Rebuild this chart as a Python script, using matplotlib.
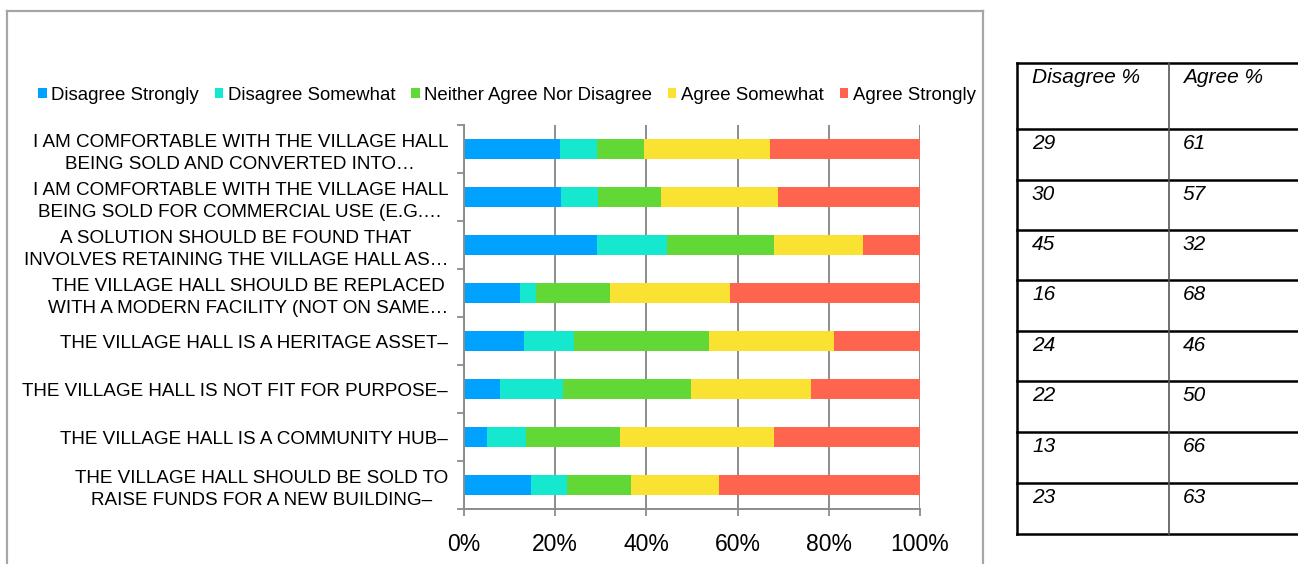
"""
Stacked 100% bar chart of village hall survey answers with a side table
of disagree / agree percentages.
"""

import matplotlib
matplotlib.use("Agg")
import matplotlib.pyplot as plt
import numpy as np
from matplotlib.lines import Line2D


# ---------- data ----------
statements = [
    "I AM COMFORTABLE WITH THE VILLAGE HALL\nBEING SOLD AND CONVERTED INTO…",
    "I AM COMFORTABLE WITH THE VILLAGE HALL\nBEING SOLD FOR COMMERCIAL USE (E.G.…",
    "A SOLUTION SHOULD BE FOUND THAT\nINVOLVES RETAINING THE VILLAGE HALL AS…",
    "THE VILLAGE HALL SHOULD BE REPLACED\nWITH A MODERN FACILITY (NOT ON SAME…",
    "THE VILLAGE HALL IS A HERITAGE ASSET–",
    "THE VILLAGE HALL IS NOT FIT FOR PURPOSE–",
    "THE VILLAGE HALL IS A COMMUNITY HUB–",
    "THE VILLAGE HALL SHOULD BE SOLD TO\nRAISE FUNDS FOR A NEW BUILDING–",
]

series_names = ["Disagree Strongly", "Disagree Somewhat",
                "Neither Agree Nor Disagree", "Agree Somewhat", "Agree Strongly"]

disagree_strongly = [21.0, 21.2, 29.2, 12.2, 13.1, 7.9, 5.0, 14.8]
disagree_somewhat = [8.2, 8.2, 15.4, 3.6, 11.0, 13.8, 8.5, 7.7]
neither = [10.2, 13.8, 23.4, 16.2, 29.6, 28.0, 20.7, 14.2]
agree_somewhat = [27.6, 25.6, 19.4, 26.4, 27.4, 26.3, 33.8, 19.3]
agree_strongly = [33.0, 31.2, 12.6, 41.6, 18.9, 24.0, 32.0, 44.0]

x_ticks = [0, 20, 40, 60, 80, 100]
x_tick_labels = ["0%", "20%", "40%", "60%", "80%", "100%"]

table_header = ["Disagree %", "Agree %"]
disagree_pct = [29, 30, 45, 16, 24, 22, 13, 23]
agree_pct = [61, 57, 32, 68, 46, 50, 66, 63]

colors = ["#00A2FF", "#16E7CF", "#61D836", "#FAE232", "#FF644E"]

plt.rcParams["font.family"] = ["Liberation Sans", "DejaVu Sans"]

W, H = 1298, 564


def fx(x):
    return x / W


def fy(y):
    return 1 - y / H


# ---------- chart ----------
fig = plt.figure(figsize=(W / 100, H / 100), dpi=100)
ax = fig.add_axes([fx(464), fy(509), fx(920) - fx(464), fy(125) - fy(509)])

values = [disagree_strongly, disagree_somewhat, neither, agree_somewhat, agree_strongly]
y = np.arange(len(statements))
left = np.zeros(len(statements))
for name, vals, col in zip(series_names, values, colors):
    ax.barh(y, vals, left=left, height=0.4, color=col, label=name,
            linewidth=0, zorder=2)
    left += np.array(vals)

ax.set_xlim(0, 100)
ax.set_ylim(len(statements) - 0.5, -0.5)

ax.set_xticks(x_ticks)
ax.set_xticklabels(x_tick_labels, fontsize=16.5)
ax.tick_params(axis="x", length=5, width=1.3, color="#8c8c8c", pad=12)
ax.grid(axis="x", color="#8c8c8c", linewidth=1.4, zorder=0)

ax.set_yticks(y)
ax.set_yticklabels(statements, fontsize=13.6, multialignment="center")
for lbl in ax.get_yticklabels():
    lbl.set_linespacing(1.4)
ax.tick_params(axis="y", which="major", length=0, pad=11.5)
ax.set_yticks(np.arange(-0.5, len(statements)), minor=True)
ax.tick_params(axis="y", which="minor", length=5, width=1.3, color="#8c8c8c")

for side in ["top", "right"]:
    ax.spines[side].set_visible(False)
for side in ["left", "bottom"]:
    ax.spines[side].set_color("#8c8c8c")
    ax.spines[side].set_linewidth(1.4)

fig.legend(loc="center", bbox_to_anchor=(fx(507), fy(95)), ncol=5,
           frameon=False, fontsize=13.4, handlelength=0.45, handleheight=0.45,
           handletextpad=0.25, columnspacing=0.85, borderpad=0)

# outer chart frame
frame = dict(color="#a6a6a6", linewidth=1.6, transform=fig.transFigure)
fig.add_artist(Line2D([fx(6.5), fx(6.5)], [fy(10.5), fy(564)], **frame))
fig.add_artist(Line2D([fx(6.5), fx(983)], [fy(10.5), fy(10.5)], **frame))
fig.add_artist(Line2D([fx(983), fx(983)], [fy(10.5), fy(564)], **frame))

# ---------- side table ----------
row_lines = [63, 129, 180, 230, 280, 331, 381, 432, 483, 534]
tbl_left, tbl_mid, tbl_right = 1017, 1169, 1298

line = dict(color="black", linewidth=1.8, transform=fig.transFigure)
for ry in row_lines:
    fig.add_artist(Line2D([fx(tbl_left), fx(tbl_right)], [fy(ry), fy(ry)], **line))
fig.add_artist(Line2D([fx(tbl_left), fx(tbl_left)], [fy(row_lines[0]), fy(row_lines[-1])], **line))
fig.add_artist(Line2D([fx(tbl_mid), fx(tbl_mid)], [fy(row_lines[0]), fy(row_lines[-1])],
                      color="#555555", linewidth=1.2, transform=fig.transFigure))

cells = [table_header] + [[str(d), str(a)] for d, a in zip(disagree_pct, agree_pct)]
for i, (c1, c2) in enumerate(cells):
    ty = row_lines[i] + 5
    fig.text(fx(tbl_left + 15), fy(ty), c1, fontsize=15, style="italic", va="top")
    fig.text(fx(tbl_mid + 14), fy(ty), c2, fontsize=15, style="italic", va="top")

fig.savefig("out.png", dpi=100)
plt.close(fig)
